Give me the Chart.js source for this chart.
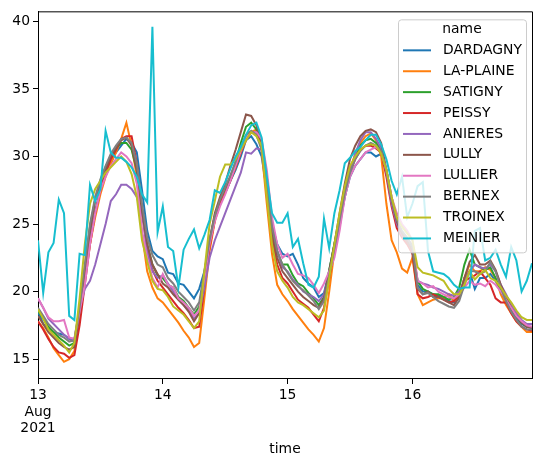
<!DOCTYPE html>
<html>
<head>
<meta charset="utf-8">
<script src="https://cdn.jsdelivr.net/npm/chart.js@4.4.0/dist/chart.umd.min.js"></script>
<style>
  html, body { margin: 0; padding: 0; background: #fff; }
</style>
</head>
<body>
<canvas id="chart" width="543" height="465"></canvas>
<script>
// hourly temperatures, 13 Aug 2021 00:00 -> 16 Aug 2021 23:00
const names = ["DARDAGNY", "LA-PLAINE", "SATIGNY", "PEISSY", "ANIERES", "LULLY", "LULLIER", "BERNEX", "TROINEX", "MEINIER"];
const colors = ["#1f77b4", "#ff7f0e", "#2ca02c", "#d62728", "#9467bd", "#8c564b", "#e377c2", "#7f7f7f", "#bcbd22", "#17becf"];

const dayTicks = [0, 24, 48, 72];
const dayLabels = [["13", "Aug", "2021"], "14", "15", "16"];
const yTicks = [15, 20, 25, 30, 35, 40];

const dardagny = [
  18.5, 17.6, 17.2, 17.0, 16.9, 16.8, 16.5, 16.3, 18.5, 21.0, 24.0, 26.0, 27.5, 28.8, 29.5, 30.3, 30.8, 31.3, 31.0, 30.3, 27.5, 24.5, 23.0, 22.6,
  22.4, 21.4, 21.3, 20.6, 20.5, 20.0, 19.5, 20.2, 21.5, 23.5, 25.3, 26.5, 27.3, 28.2, 29.0, 30.0, 31.2, 31.5, 30.9, 30.0, 27.5, 25.0, 23.5, 22.8,
  22.6, 22.8, 22.0, 21.0, 20.6, 20.3, 19.6, 19.9, 21.5, 23.5, 25.2, 27.0, 28.5, 29.3, 29.8, 30.3, 30.3, 30.0, 30.2, 29.0, 27.0, 25.3, 24.3, 23.6,
  23.0, 20.5, 20.0, 20.0, 19.8, 19.7, 19.5, 19.3, 19.2, 19.5, 21.0, 21.5, 20.2, 21.0, 21.0, 21.3, 20.8, 20.0, 19.3, 18.6, 18.0, 17.6, 17.4, 17.3
];
const laPlaine = [
  17.8, 17.3, 16.6, 15.8, 15.3, 14.8, 15.0, 15.6, 18.0, 21.0, 23.5, 25.5, 27.2, 28.5, 29.5, 30.3, 31.3, 32.5, 30.8, 28.5, 24.3, 21.5, 20.3, 19.5,
  19.2, 18.7, 18.2, 17.7, 17.1, 16.6, 15.9, 16.2, 19.5, 23.0, 25.2, 26.5, 27.4, 28.3, 29.2, 30.3, 31.2, 31.8, 32.0, 30.5, 26.5, 22.8, 20.5, 19.8,
  19.3, 18.7, 18.2, 17.7, 17.2, 16.8, 16.3, 17.3, 20.0, 23.0, 25.5, 27.5, 29.0, 30.2, 31.0, 31.5, 31.7, 31.2, 30.0, 26.5, 23.8, 22.9, 21.7, 21.4,
  22.5, 19.8, 19.0, 19.2, 19.4, 19.5, 19.5, 19.8, 19.3, 19.6, 21.0, 22.0, 21.5, 21.5, 21.8, 21.6, 21.0, 19.8, 19.0, 18.4, 17.8, 17.4, 17.0, 17.0
];
const satigny = [
  18.6, 18.0, 17.4, 17.0, 16.6, 16.3, 16.0, 16.2, 18.5, 21.8, 24.8, 26.8, 28.2, 29.2, 30.0, 30.6, 31.0, 31.0, 30.5, 29.0, 26.0, 23.5, 22.0, 21.2,
  21.0, 20.5, 20.3, 19.6, 19.3, 18.8, 18.3, 18.9, 21.3, 23.8, 25.6, 26.8, 27.6, 28.5, 29.6, 31.0, 32.2, 32.5, 32.0, 31.0, 28.0, 24.5, 23.0, 22.0,
  22.0, 21.2, 20.6, 20.4, 19.9, 19.5, 19.0, 19.6, 21.6, 23.5, 25.5, 27.5, 29.0, 30.0, 30.8, 31.2, 31.3, 31.0, 30.5, 28.8, 26.6, 25.0, 24.3, 23.8,
  23.2, 20.8, 20.2, 20.0, 19.8, 19.8, 19.6, 19.4, 19.6, 20.3, 22.0, 23.1, 22.0, 21.8, 21.6, 21.8, 21.0, 20.0, 19.4, 18.8, 18.2, 17.7, 17.4, 17.4
];
const peissy = [
  17.8, 17.2, 16.5, 15.9, 15.5, 15.4, 15.1, 15.3, 17.5, 20.5, 23.5, 25.8, 27.5, 28.8, 29.8, 30.5, 31.3, 31.5, 31.5, 29.5, 26.0, 23.0, 21.6, 20.8,
  20.3, 19.8, 19.3, 18.8, 18.4, 17.9, 17.3, 17.4, 20.3, 23.3, 25.3, 26.5, 27.3, 28.2, 29.2, 30.3, 31.3, 31.8, 31.8, 31.0, 27.8, 24.0, 22.0, 21.0,
  20.6, 20.0, 19.4, 19.1, 18.8, 18.3, 17.8, 18.8, 21.0, 23.2, 25.3, 27.3, 28.8, 29.8, 30.5, 30.8, 30.8, 30.6, 30.3, 28.5, 26.3, 24.7, 24.0, 23.5,
  22.8, 19.8, 19.5, 19.6, 19.8, 19.6, 19.4, 19.2, 19.3, 19.8, 20.8, 21.0, 21.2, 21.5, 21.0, 20.5, 19.5, 19.2, 19.2, 18.4, 17.8, 17.4, 17.2, 17.1
];
const anieres = [
  19.5, 18.8, 18.0, 17.6, 17.2, 16.8, 16.5, 16.5, 18.8, 20.2, 20.8, 22.0, 23.5, 25.0, 26.7, 27.2, 27.9, 27.9, 27.6, 27.0, 25.8, 23.0, 21.5, 21.0,
  21.2, 20.6, 20.0, 19.4, 19.0, 18.6, 18.0, 18.4, 20.3, 22.5, 23.8, 24.8, 25.8, 26.8, 27.8, 28.8, 30.3, 30.2, 30.6, 30.5, 28.5, 25.0, 23.0, 21.8,
  21.5, 20.9, 20.5, 20.0, 19.8, 19.6, 19.3, 19.8, 21.3, 22.8, 24.8, 27.0, 28.8, 30.2, 31.2, 31.8, 31.8, 31.3, 30.6, 28.8, 26.5, 25.0, 24.2, 23.8,
  23.0, 20.8, 20.6, 20.5, 20.3, 20.2, 20.0, 19.8, 19.7, 20.0, 20.8, 21.5, 22.0, 21.8, 21.7, 22.0, 21.5, 20.5, 19.8, 19.0, 18.4, 17.9, 17.6, 17.6
];
const lully = [
  18.2, 17.6, 17.0, 16.6, 16.2, 15.9, 15.7, 15.9, 18.5, 21.5, 24.5, 26.8, 28.0, 29.0, 30.0, 30.6, 31.2, 31.4, 30.8, 29.0, 26.0, 23.5, 22.0, 21.3,
  20.6, 20.3, 19.8, 19.4, 19.0, 18.5, 17.8, 18.4, 21.0, 23.8, 25.8, 27.0, 28.0, 29.3, 30.5, 31.8, 33.1, 33.0, 32.3, 31.0, 27.8, 24.3, 22.5, 21.5,
  21.0, 20.5, 20.0, 19.6, 19.3, 19.0, 18.8, 19.5, 21.5, 23.5, 25.8, 28.0, 29.8, 30.8, 31.5, 31.9, 32.0, 31.8, 31.0, 29.0, 26.8, 25.2, 24.3, 23.7,
  23.0, 20.2, 19.8, 20.0, 19.6, 19.6, 19.4, 19.2, 19.0, 19.6, 21.0, 22.2, 22.7, 22.0, 22.0, 22.3, 21.6, 20.5, 19.6, 18.8, 18.2, 17.7, 17.4, 17.3
];
const lullier = [
  19.5, 18.8, 18.1, 17.8, 17.8, 17.9, 16.6, 16.5, 18.5, 20.5, 23.5, 25.8, 27.5, 28.5, 29.3, 29.8, 30.3, 30.0, 29.5, 28.0, 24.5, 22.5, 21.0, 20.3,
  21.3, 20.5, 20.3, 19.5, 19.2, 18.8, 18.2, 18.6, 21.0, 23.5, 25.2, 26.3, 27.2, 28.2, 29.3, 30.4, 31.4, 31.8, 31.8, 31.3, 29.0, 25.5, 23.5, 22.5,
  22.8, 22.0, 21.3, 21.2, 21.0, 20.5, 19.9, 20.6, 21.5, 22.5, 24.5, 27.0, 28.5, 29.3, 29.8, 30.3, 30.5, 30.7, 30.3, 29.0, 27.0, 25.8, 25.0, 24.5,
  23.8, 20.8, 20.6, 20.3, 20.4, 20.0, 19.8, 19.6, 19.5, 19.8, 20.3, 20.8, 20.5, 20.6, 20.4, 20.8, 20.5, 20.0, 19.4, 18.8, 18.2, 17.8, 17.5, 17.4
];
const bernex = [
  18.8, 18.2, 17.6, 17.2, 16.8, 16.6, 16.3, 16.4, 18.8, 22.0, 25.0, 27.0, 28.3, 29.3, 30.2, 30.8, 31.3, 31.4, 31.0, 29.5, 26.5, 24.0, 22.7, 22.0,
  21.8, 21.0, 20.6, 20.0, 19.6, 19.2, 18.6, 19.2, 21.5, 23.8, 25.6, 26.8, 27.7, 28.6, 29.6, 30.7, 31.6, 31.9, 31.6, 30.5, 27.8, 24.8, 23.0, 22.0,
  21.4, 20.8, 20.4, 20.1, 19.7, 19.3, 18.7, 19.3, 21.2, 23.2, 25.3, 27.3, 28.8, 29.8, 30.4, 30.8, 31.0, 30.8, 30.4, 29.0, 26.8, 25.3, 24.5, 24.0,
  23.4, 20.3, 19.8, 19.9, 19.6, 19.3, 19.1, 18.9, 18.8, 19.3, 20.5, 21.5, 21.5, 21.3, 21.5, 22.2, 21.5, 20.3, 19.3, 18.5, 17.9, 17.4, 17.2, 17.2
];
const troinex = [
  18.7, 18.0, 17.2, 16.8, 16.4, 16.0, 15.5, 16.2, 19.5, 23.5, 26.5, 27.6, 28.2, 28.8, 29.2, 29.6, 30.0, 29.6, 28.7, 27.0, 23.8, 22.2, 20.8, 20.2,
  20.1, 19.6, 18.9, 18.6, 18.3, 17.8, 17.3, 17.8, 21.5, 25.0, 26.7, 28.5, 29.4, 29.4, 29.8, 30.5, 31.2, 31.8, 31.5, 30.8, 27.0, 23.5, 21.5, 20.8,
  20.3, 19.6, 19.2, 19.0, 18.7, 18.4, 18.1, 18.6, 21.0, 23.5, 25.8, 27.8, 29.3, 30.0, 30.5, 30.8, 30.9, 30.8, 30.2, 29.0, 27.0, 25.5, 24.8, 24.3,
  23.8, 21.8, 21.4, 21.3, 21.2, 21.0, 20.8, 20.2, 19.8, 19.8, 20.5, 21.5, 20.9, 21.3, 21.6, 21.0, 20.8, 20.3, 19.7, 19.2, 18.6, 18.1, 17.9, 17.9
];
const meinier = [
  23.8, 19.9, 22.9, 23.6, 26.8, 25.8, 18.2, 17.9, 22.8, 22.7, 27.9, 26.7, 27.6, 31.9, 30.3, 29.9, 29.9, 29.6, 29.2, 28.5, 27.2, 26.6, 39.6, 24.4,
  26.3, 23.3, 23.0, 20.3, 23.1, 23.9, 24.6, 23.2, 24.2, 25.3, 27.5, 27.3, 28.1, 29.1, 30.0, 30.7, 31.6, 32.3, 32.5, 31.4, 28.5, 25.8, 25.1, 25.1,
  25.8, 23.3, 23.9, 22.1, 20.5, 20.3, 21.1, 25.4, 23.2, 25.8, 27.5, 29.5, 29.9, 30.4, 30.7, 31.2, 31.6, 31.6, 30.9, 29.8, 28.2, 27.2, 28.5, 25.5,
  26.5, 27.8, 28.1, 23.0, 21.5, 21.4, 21.3, 21.0, 20.5, 20.2, 20.3, 20.3, 24.5, 24.7, 22.3, 22.5, 23.1, 22.0, 21.1, 23.3, 22.3, 20.0, 20.8, 22.1
];

const seriesValues = [dardagny, laPlaine, satigny, peissy, anieres, lully, lullier, bernex, troinex, meinier];

Chart.defaults.font.family = "'DejaVu Sans', sans-serif";
Chart.defaults.font.size = 13.9;
Chart.defaults.color = "#000";

// top + right spines like matplotlib
const frameBox = {
  id: "frameBox",
  afterDatasetsDraw(chart) {
    const { ctx, chartArea: a } = chart;
    ctx.save();
    ctx.strokeStyle = "#000";
    ctx.lineWidth = 1;
    ctx.beginPath();
    ctx.moveTo(a.left, a.top + 0.5);
    ctx.lineTo(a.right + 0.5, a.top + 0.5);
    ctx.lineTo(a.right + 0.5, a.bottom);
    ctx.stroke();
    ctx.restore();
  },
};

// legend drawn inside the axes, upper right
const legendBox = {
  id: "legendBox",
  afterDatasetsDraw(chart) {
    const { ctx, chartArea } = chart;
    const w = 128, h = 233;
    const left = chartArea.right - 134, top = chartArea.top + 8;
    ctx.save();
    ctx.beginPath();
    ctx.roundRect(left + 0.5, top + 0.5, w, h, 3);
    ctx.fillStyle = "rgba(255,255,255,0.8)";
    ctx.fill();
    ctx.strokeStyle = "#cccccc";
    ctx.lineWidth = 1;
    ctx.stroke();
    ctx.font = "13.9px 'DejaVu Sans'";
    ctx.fillStyle = "#000";
    ctx.textBaseline = "middle";
    ctx.textAlign = "center";
    ctx.fillText("name", left + w / 2, top + 10);
    ctx.textAlign = "left";
    chart.data.datasets.forEach((ds, i) => {
      const y = top + 31 + i * 20.9;
      ctx.strokeStyle = ds.borderColor;
      ctx.lineWidth = 2;
      ctx.beginPath();
      ctx.moveTo(left + 5, y);
      ctx.lineTo(left + 33, y);
      ctx.stroke();
      ctx.fillText(ds.label, left + 45, y);
    });
    ctx.restore();
  },
};

new Chart(document.getElementById("chart"), {
  type: "line",
  data: {
    datasets: names.map((name, i) => ({
      label: name,
      data: seriesValues[i].map((v, h) => ({ x: h, y: v })),
      borderColor: colors[i],
      backgroundColor: colors[i],
      borderWidth: 2,
      pointRadius: 0,
      tension: 0,
      order: names.length - 1 - i, // last series on top, like pandas
    })),
  },
  options: {
    responsive: false,
    animation: false,
    devicePixelRatio: 1,
    layout: { padding: { top: 10, right: 11, left: 0, bottom: 0 } },
    plugins: { legend: { display: false }, tooltip: { enabled: false } },
    scales: {
      x: {
        type: "linear",
        min: 0,
        max: 95,
        afterBuildTicks: (s) => { s.ticks = dayTicks.map((v) => ({ value: v })); },
        afterFit: (s) => { s.height = 86; },
        ticks: {
          callback: (v) => dayLabels[dayTicks.indexOf(v)],
          maxRotation: 0,
          autoSkip: false,
          padding: 3,
        },
        grid: { drawOnChartArea: false, tickLength: 5, color: "#000" },
        border: { color: "#000", width: 1 },
        title: { display: true, text: "time", padding: { top: 0, bottom: 7 } },
      },
      y: {
        min: 13.53,
        max: 40.74,
        afterBuildTicks: (s) => { s.ticks = yTicks.map((v) => ({ value: v })); },
        afterFit: (s) => { s.width = 38; },
        ticks: { padding: 3 },
        grid: { drawOnChartArea: false, tickLength: 5, color: "#000" },
        border: { color: "#000", width: 1 },
      },
    },
  },
  plugins: [frameBox, legendBox],
});
</script>
</body>
</html>
